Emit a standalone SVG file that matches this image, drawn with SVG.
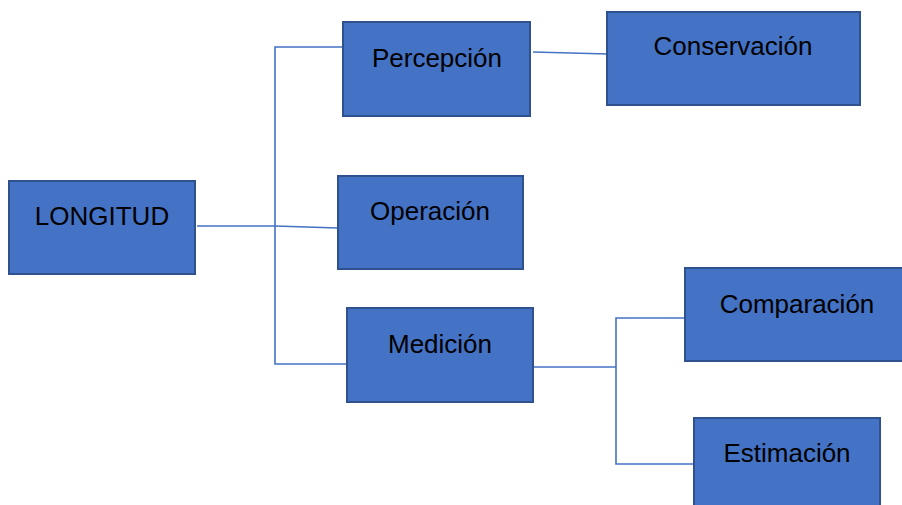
<svg xmlns="http://www.w3.org/2000/svg" width="902" height="505" viewBox="0 0 902 505">
<style>
.box{fill:#4472C4;stroke:#2F528F;stroke-width:2}
.lbl{font-family:"Liberation Sans",Arial,sans-serif;font-size:26px;fill:#000;text-anchor:middle}
.con{fill:none;stroke:#4472C4;stroke-width:1.6}
</style>
<rect width="902" height="505" fill="#fff"/>
<g id="connectors">
<path class="con" d="M197,226 L275,226 L338,228"/>
<path class="con" d="M343,47 L275,47 L275,364 L347,364"/>
<path class="con" d="M533,52 L608,54"/>
<path class="con" d="M533,367 L616,367"/>
<path class="con" d="M685,318 L616,318 L616,464 L694,464"/>
</g>
<g id="longitud"><rect class="box" x="9" y="181" width="186" height="93"/><text class="lbl" x="102" y="225">LONGITUD</text></g>
<g id="percepcion"><rect class="box" x="343" y="22" width="187" height="94"/><text class="lbl" x="437" y="67">Percepción</text></g>
<g id="conservacion"><rect class="box" x="607" y="12" width="253" height="93"/><text class="lbl" x="733" y="55">Conservación</text></g>
<g id="operacion"><rect class="box" x="338" y="176" width="185" height="93"/><text class="lbl" x="430" y="220">Operación</text></g>
<g id="medicion"><rect class="box" x="347" y="308" width="186" height="94"/><text class="lbl" x="440" y="353">Medición</text></g>
<g id="comparacion"><rect class="box" x="685" y="268" width="220" height="93"/><text class="lbl" x="797" y="313">Comparación</text></g>
<g id="estimacion"><rect class="box" x="694" y="418" width="186" height="92"/><text class="lbl" x="787" y="462">Estimación</text></g>
</svg>
